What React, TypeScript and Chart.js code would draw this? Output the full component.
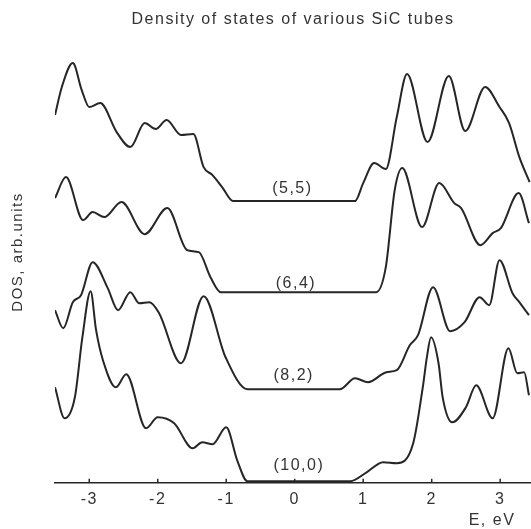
import React, { useEffect, useRef } from "react";
import { Chart, registerables } from "chart.js";

Chart.register(...registerables);

const chartTitle = "Density of states of various SiC tubes";
const yTitle = "DOS, arb.units";
const xTitle = "E, eV";
const tickValues = [-3, -2, -1, 0, 1, 2, 3];
const tickLabels = ["-3", "-2", "-1", "0", "1", "2", "3"];

const seriesNames = ["(5,5)", "(6,4)", "(8,2)", "(10,0)"];

const e55 = [-3.5, -3.4, -3.24, -3.11, -3.0, -2.84, -2.6, -2.4, -2.19, -2.03, -1.87, -1.66, -1.48, -1.33, -1.2, -1.06, -0.9, 0.88, 1.0, 1.16, 1.33, 1.49, 1.64, 1.94, 2.25, 2.49, 2.78, 2.99, 3.13, 3.28, 3.43];
const dos55 = [367, 395, 419, 392, 375, 379, 350, 335, 359, 353, 362, 347, 348, 315, 307, 295, 281, 281, 299, 319, 313, 365, 408, 340, 406, 351, 395, 375, 359, 325, 300];

const e64 = [-3.5, -3.34, -3.09, -2.95, -2.78, -2.53, -2.19, -1.86, -1.57, -1.4, -1.23, -1.08, 1.19, 1.33, 1.46, 1.57, 1.86, 2.11, 2.33, 2.43, 2.71, 2.89, 3.01, 3.27, 3.42];
const dos64 = [284, 305, 262, 270, 265, 280, 248, 274, 232, 230, 205, 190, 190, 215, 292, 314, 255, 299, 279, 274, 237, 249, 254, 289, 259];

const e82 = [-3.5, -3.38, -3.24, -3.12, -2.95, -2.73, -2.58, -2.4, -2.27, -2.12, -1.98, -1.66, -1.33, -1.01, -0.69, 0.66, 0.88, 1.07, 1.34, 1.49, 1.68, 1.8, 2.02, 2.27, 2.48, 2.7, 2.84, 2.99, 3.18, 3.28, 3.42];
const dos82 = [172, 154, 180, 187, 220, 194, 172, 190, 179, 180, 169, 119, 186, 125, 93, 93, 104, 100, 110, 112, 137, 147, 195, 151, 160, 185, 177, 222, 189, 180, 167];

const e100 = [-3.5, -3.36, -3.21, -3.1, -2.98, -2.9, -2.8, -2.61, -2.46, -2.17, -2.0, -1.76, -1.49, -1.35, -1.2, -1.0, -0.84, -0.69, 0.81, 1.05, 1.29, 1.49, 1.73, 1.87, 1.93, 1.99, 2.1, 2.16, 2.3, 2.5, 2.65, 2.89, 3.12, 3.25, 3.35, 3.42];
const dos100 = [95, 64, 85, 145, 191, 152, 122, 95, 108, 54, 65, 59, 34, 40, 38, 55, 22, 1, 1, 10, 20, 19, 39, 95, 125, 145, 119, 85, 60, 75, 97, 64, 134, 109, 110, 87];

const labelE = [-0.034, 0.018, -0.015, 0.061];
const labelDos = [294, 198.5, 107, 16.5];

const FONT = "'Liberation Sans', Arial, sans-serif";
const TEXT = "#333333";
const LINE = "#262626";
const SPACING = "1.5px";

export default function App() {
  const ref = useRef<HTMLCanvasElement | null>(null);

  useEffect(() => {
    if (!ref.current) return;
    const xs = [e55, e64, e82, e100];
    const ys = [dos55, dos64, dos82, dos100];

    const spacing = {
      id: "spacing",
      beforeUpdate(chart: any) { chart.ctx.letterSpacing = SPACING; },
      beforeLayout(chart: any) { chart.ctx.letterSpacing = SPACING; },
      beforeDraw(chart: any) { chart.ctx.letterSpacing = SPACING; },
    };

    const annotate = {
      id: "annotate",
      afterDraw(chart: any) {
        const ctx = chart.ctx;
        const xS = chart.scales.x;
        const yS = chart.scales.y;
        const area = chart.chartArea;
        ctx.save();
        ctx.letterSpacing = SPACING;
        ctx.strokeStyle = LINE;
        ctx.lineWidth = 1.5;
        tickValues.forEach((v) => {
          const px = xS.getPixelForValue(v);
          ctx.beginPath();
          ctx.moveTo(px, area.bottom);
          ctx.lineTo(px, area.bottom - 3.5);
          ctx.stroke();
        });
        ctx.fillStyle = TEXT;
        ctx.font = `16px ${FONT}`;
        ctx.textAlign = "center";
        ctx.textBaseline = "middle";
        seriesNames.forEach((n, i) => {
          ctx.fillText(n, xS.getPixelForValue(labelE[i]), yS.getPixelForValue(labelDos[i]));
        });
        ctx.fillText(xTitle, 492, 521);
        ctx.font = `15px ${FONT}`;
        ctx.translate(17.5, 252);
        ctx.rotate(-Math.PI / 2);
        ctx.fillText(yTitle, 0, 0);
        ctx.restore();
      },
    };

    const chart = new Chart(ref.current, {
      type: "line",
      data: {
        datasets: seriesNames.map((n, i) => ({
          label: n,
          data: xs[i].map((x, j) => ({ x, y: ys[i][j] })),
          borderColor: LINE,
          borderWidth: 2,
          pointRadius: 0,
          fill: false,
          cubicInterpolationMode: "monotone" as const,
        })),
      },
      options: {
        animation: false,
        responsive: false,
        layout: { padding: { left: 55, right: 0, top: 0, bottom: 11.5 } },
        plugins: {
          legend: { display: false },
          tooltip: { enabled: false },
          title: {
            display: true,
            text: chartTitle,
            color: TEXT,
            font: { family: FONT, size: 16, weight: "normal" },
            padding: { top: 10, bottom: 22.8 },
          },
        },
        scales: {
          x: {
            type: "linear",
            min: -3.5,
            max: 3.45,
            grid: { display: false, drawTicks: false },
            border: { display: true, color: LINE, width: 1.5 },
            afterBuildTicks: (scale: any) => {
              scale.ticks = tickValues.map((v) => ({ value: v }));
            },
            ticks: {
              color: TEXT,
              font: { family: FONT, size: 16 },
              padding: 8,
              maxRotation: 0,
              autoSkip: false,
              callback: (v: any) => {
                const k = tickValues.indexOf(Number(v));
                return k >= 0 ? tickLabels[k] : "";
              },
            },
          },
          y: {
            display: false,
            min: 0,
            max: 430,
          },
        },
      },
      plugins: [spacing, annotate],
    });
    return () => chart.destroy();
  }, []);

  return (
    <div style={{ position: "fixed", left: 0, top: 0, width: 531, height: 529, background: "#fff" }}>
      <canvas ref={ref} width={531} height={529} style={{ display: "block", width: 531, height: 529 }} />
    </div>
  );
}
